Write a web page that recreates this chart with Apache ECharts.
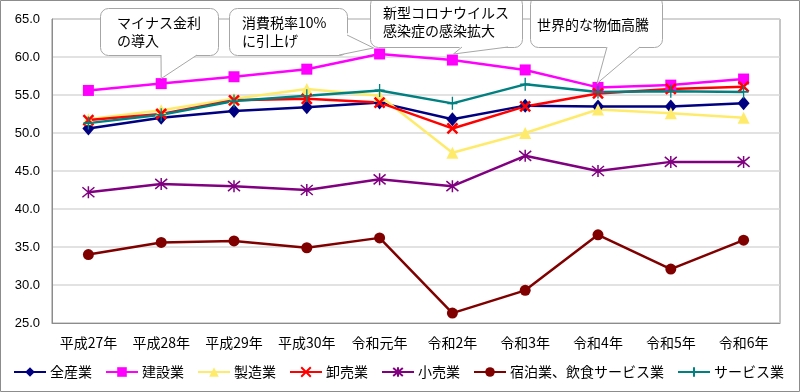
<!DOCTYPE html>
<html>
<head>
<meta charset="utf-8">
<script src="https://cdn.jsdelivr.net/npm/echarts@6/dist/echarts.min.js"></script>
<style>
html,body{margin:0;padding:0;background:#fff;}
#chart{width:800px;height:392px;}
</style>
</head>
<body>
<div id="chart"></div>
<script>
var categories = ['平成27年','平成28年','平成29年','平成30年','令和元年','令和2年','令和3年','令和4年','令和5年','令和6年'];
var seriesNames = ['全産業','建設業','製造業','卸売業','小売業','宿泊業、飲食サービス業','サービス業'];
var allIndustries = [50.6, 52.0, 52.9, 53.4, 54.0, 51.8, 53.6, 53.5, 53.5, 53.9];
var construction  = [55.6, 56.5, 57.4, 58.4, 60.4, 59.6, 58.3, 56.0, 56.3, 57.1];
var manufacturing = [51.8, 53.0, 54.5, 55.8, 54.9, 47.4, 50.0, 53.1, 52.6, 52.0];
var wholesale     = [51.7, 52.5, 54.3, 54.5, 54.0, 50.6, 53.5, 55.2, 55.8, 56.1];
var retail        = [42.2, 43.3, 43.0, 42.5, 43.9, 43.0, 47.0, 45.0, 46.2, 46.2];
var hospitality   = [34.0, 35.6, 35.8, 34.9, 36.2, 26.3, 29.3, 36.6, 32.1, 35.9];
var services      = [51.3, 52.4, 54.2, 54.9, 55.6, 53.9, 56.4, 55.4, 55.5, 55.4];
var yTicks = [25, 30, 35, 40, 45, 50, 55, 60, 65];

// callout annotations: text and the category they point to (on 建設業 series)
var calloutTexts = ['マイナス金利\nの導入', '消費税率10%\nに引上げ', '新型コロナウイルス\n感染症の感染拡大', '世界的な物価高騰'];
var calloutCats = [1, 4, 5, 7];

var FONT = '"Noto Sans CJK JP", "Noto Sans", sans-serif';
var chart = echarts.init(document.getElementById('chart'));

function mk(name, data, color, symbol, size, extra) {
  var s = {
    name: name, type: 'line', data: data,
    symbol: symbol, symbolSize: size,
    lineStyle: {width: 2.5, color: color},
    itemStyle: {color: color, borderWidth: 0},
    emphasis: {disabled: true},
    animation: false
  };
  if (extra) { s.itemStyle.borderColor = color; s.itemStyle.borderWidth = extra; }
  return s;
}

var option = {
  animation: false,
  grid: {left: 52, right: 20, top: 19, bottom: 69, show: true, borderColor: '#8c8c8c', borderWidth: 1},
  xAxis: {
    type: 'category', data: categories, boundaryGap: true,
    axisLine: {lineStyle: {color: '#8c8c8c', width: 1}},
    axisTick: {inside: true, length: 4, lineStyle: {color: '#8c8c8c'}},
    axisLabel: {color: '#000', fontSize: 14, fontFamily: FONT, margin: 13, interval: 0}
  },
  yAxis: {
    type: 'value', min: yTicks[0], max: yTicks[yTicks.length-1], interval: 5,
    axisLine: {show: true, lineStyle: {color: '#8c8c8c', width: 1}},
    axisTick: {show: false},
    splitLine: {lineStyle: {color: '#d9d9d9', width: 1.5}},
    axisLabel: {color: '#000', fontSize: 13, fontFamily: '"Liberation Sans", Arial, sans-serif', margin: 12,
      formatter: function(v){ return v.toFixed(1); }}
  },
  legend: {
    left: 13, top: 365, itemWidth: 32, itemHeight: 12, itemGap: 13, padding: 0,
    textStyle: {fontSize: 14, fontFamily: FONT, color: '#000', padding: [0,0,0,-1]},
    data: seriesNames
  },
  series: [
    mk(seriesNames[0], allIndustries, '#000080', 'diamond', [12, 14]),
    mk(seriesNames[1], construction, '#ff00ff', 'rect', 11),
    mk(seriesNames[2], manufacturing, '#ffeb6b', 'triangle', 12),
    mk(seriesNames[3], wholesale, '#ff0000', 'path://M0,0L10,10M10,0L0,10', 10, 2.5),
    mk(seriesNames[4], retail, '#800080', 'path://M0,0L10,10M10,0L0,10M5,-1L5,11', 12, 1.5),
    mk(seriesNames[5], hospitality, '#800000', 'circle', 11),
    mk(seriesNames[6], services, '#008080', 'path://M5,0L5,12M0,6L10,6', [10, 13], 1.5)
  ]
};
chart.setOption(option);

// callout layout (boxes) and tail anchor positions
var boxes = [
  {x: 100, y: 8, w: 118, h: 47, tx: 117, ty: 14, base: function(b){ return [[161, b.y+b.h], [197, b.y+b.h]]; }, off: [0, -5]},
  {x: 229, y: 8, w: 118, h: 47, tx: 242, ty: 14, base: function(b){ return [[b.x+b.w, 35], [b.x+b.w-8, b.y+b.h]]; }, off: [-6, -6]},
  {x: 370, y: -4, w: 152, h: 51, tx: 383, ty: 4, base: function(b){ return [[462, b.y+b.h], [508, b.y+b.h]]; }, off: [1, -6]},
  {x: 530, y: -4, w: 132, h: 51, tx: 537, ty: 16, base: function(b){ return [[607, b.y+b.h], [640, b.y+b.h]]; }, off: [-1, -4]}
];

var graphics = [];
graphics.push({type: 'rect', shape: {x: 0.5, y: 0.5, width: 799, height: 391},
  style: {fill: 'none', stroke: '#8c8c8c', lineWidth: 1}, z: 200, silent: true});

for (var i = 0; i < calloutTexts.length; i++) {
  var b = boxes[i];
  var p = chart.convertToPixel({gridIndex: 0}, [calloutCats[i], construction[calloutCats[i]]]);
  var tip = [p[0] + b.off[0], p[1] + b.off[1]];
  var base = b.base(b);
  graphics.push({type: 'rect', shape: {x: b.x + 0.5, y: b.y + 0.5, width: b.w, height: b.h, r: 8},
    style: {fill: '#fff', stroke: '#a6a6a6', lineWidth: 1}, z: 100, silent: true});
  var inward = [[base[0][0], base[0][1] - 2], [base[1][0], base[1][1] - 2]];
  graphics.push({type: 'polygon', shape: {points: [inward[0], tip, inward[1]]},
    style: {fill: '#fff', stroke: null}, z: 101, silent: true});
  graphics.push({type: 'polygon', shape: {points: [base[0], tip, base[1], inward[1], inward[0]]},
    style: {fill: '#fff', stroke: null}, z: 101, silent: true});
  graphics.push({type: 'polyline', shape: {points: [base[0], tip, base[1]]},
    style: {fill: 'none', stroke: '#a6a6a6', lineWidth: 1}, z: 102, silent: true});
  graphics.push({type: 'text', x: b.tx, y: b.ty,
    style: {text: calloutTexts[i], font: '14px ' + FONT, fill: '#000', lineHeight: 18}, z: 103, silent: true});
}
chart.setOption({graphic: graphics});
</script>
</body>
</html>
